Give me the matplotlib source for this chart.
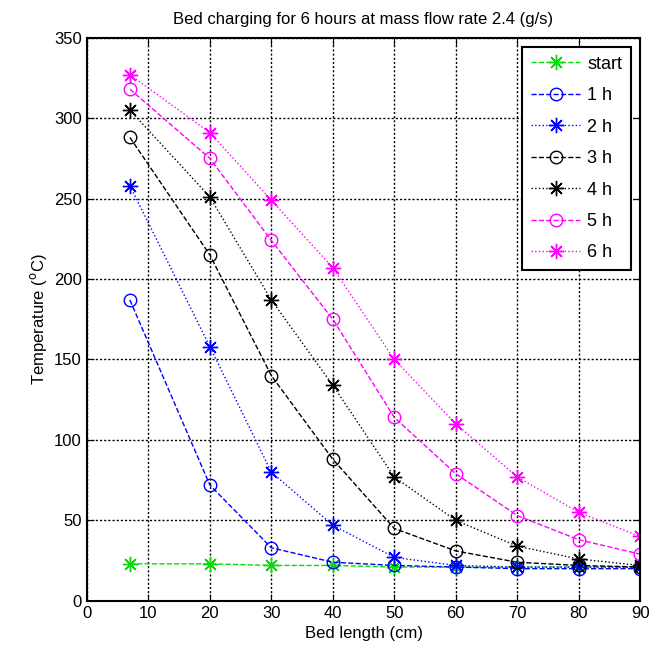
import matplotlib.pyplot as plt

plt.rcParams['font.family'] = ['Liberation Sans', 'DejaVu Sans']

bed_length = [7, 20, 30, 40, 50, 60, 70, 80, 90]

t_start = [23, 23, 22, 22, 21, 21, 21, 21, 21]
t_1h = [187, 72, 33, 24, 22, 21, 20, 20, 20]
t_2h = [258, 158, 80, 47, 27, 22, 21, 21, 21]
t_3h = [288, 215, 140, 88, 45, 31, 24, 22, 21]
t_4h = [305, 251, 187, 134, 77, 50, 34, 26, 22]
t_5h = [318, 275, 224, 175, 114, 79, 53, 38, 29]
t_6h = [327, 291, 249, 207, 150, 110, 77, 55, 40]

star = (8, 2, 0)  # MATLAB-like asterisk
series = [
    ('start', t_start, '#00e000', '--', star),
    ('1 h', t_1h, '#0000ff', '--', 'o'),
    ('2 h', t_2h, '#0000ff', ':', star),
    ('3 h', t_3h, 'black', '--', 'o'),
    ('4 h', t_4h, 'black', ':', star),
    ('5 h', t_5h, '#ff00ff', '--', 'o'),
    ('6 h', t_6h, '#ff00ff', ':', star),
]

fig = plt.figure(figsize=(6.58, 6.61), dpi=100)
ax = fig.add_axes([0.132, 0.091, 0.841, 0.852])

for name, vals, col, ls, mk in series:
    ax.plot(bed_length, vals, color=col, linestyle=ls, marker=mk,
            markersize=9 if mk == 'o' else 11, markerfacecolor='none',
            markeredgewidth=1, linewidth=1, label=name)

ax.set_xlim(0, 90)
ax.set_ylim(0, 350)
ax.set_xticks(range(0, 91, 10))
ax.set_yticks(range(0, 351, 50))
ax.tick_params(direction='in', top=True, right=True, labelsize=12, length=5)
ax.grid(True, color='black', linestyle=(0, (1.5, 1.5)), linewidth=1)
for s in ax.spines.values():
    s.set_linewidth(1.5)

ax.set_xlabel('Bed length (cm)', fontsize=12)
ax.set_ylabel('Temperature ($^{\\rm o}$C)', fontsize=12)
ax.set_title('Bed charging for 6 hours at mass flow rate 2.4 (g/s)', fontsize=12, pad=10)

leg = ax.legend(loc='upper right', fontsize=13, fancybox=False, framealpha=1,
                edgecolor='black', borderpad=0.5, handlelength=2.7, handletextpad=0.4,
                labelspacing=0.8, borderaxespad=0.5)
leg.get_frame().set_linewidth(1.5)

fig.savefig('out.png', dpi=100)
